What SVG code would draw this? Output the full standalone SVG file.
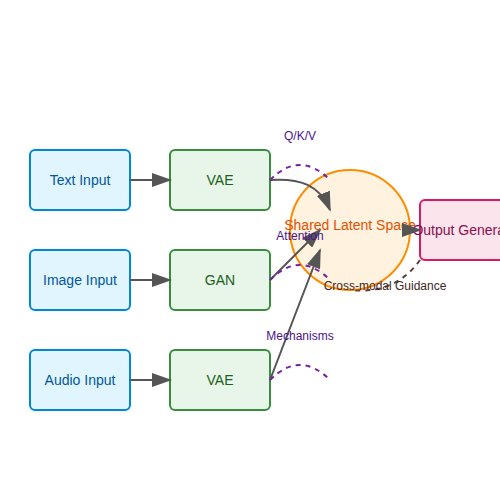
<svg xmlns="http://www.w3.org/2000/svg" width="500" height="500" viewBox="0 0 500 500">
<defs>
<marker id="arr" viewBox="0 0 10 7" refX="9" refY="3.5" markerWidth="10" markerHeight="7" orient="auto" markerUnits="strokeWidth">
<polygon points="0 0, 10 3.5, 0 7" fill="#555"/>
</marker>
<style>
text{font-family:"Liberation Sans",Arial,sans-serif;text-anchor:middle}
.in rect{fill:#e1f5fe;stroke:#0288d1;stroke-width:2}
.in text{fill:#01579b;font-size:14px}
.enc rect{fill:#e8f5e9;stroke:#388e3c;stroke-width:2}
.enc text{fill:#1b5e20;font-size:14px}
.con{stroke:#555;stroke-width:2;fill:none}
.att{stroke:#7b1fa2;stroke-width:2;fill:none;stroke-dasharray:5,5}
.lab{fill:#4a148c;font-size:12px}
</style>
</defs>
<rect width="500" height="500" fill="#fff"/>
<g id="text-input" class="in"><rect x="30" y="150" width="100" height="60" rx="5"/><text x="80" y="185">Text Input</text></g>
<g id="image-input" class="in"><rect x="30" y="250" width="100" height="60" rx="5"/><text x="80" y="285">Image Input</text></g>
<g id="audio-input" class="in"><rect x="30" y="350" width="100" height="60" rx="5"/><text x="80" y="385">Audio Input</text></g>
<g id="vae1" class="enc"><rect x="170" y="150" width="100" height="60" rx="5"/><text x="220" y="185">VAE</text></g>
<g id="gan" class="enc"><rect x="170" y="250" width="100" height="60" rx="5"/><text x="220" y="285">GAN</text></g>
<g id="vae2" class="enc"><rect x="170" y="350" width="100" height="60" rx="5"/><text x="220" y="385">VAE</text></g>
<g id="latent"><circle cx="350" cy="230" r="60" fill="#fff3e0" stroke="#ff8c00" stroke-width="2"/><text x="350" y="230" fill="#e65100" font-size="14">Shared Latent Space</text></g>
<g id="output"><rect x="420" y="200" width="100" height="60" rx="5" fill="#fce4ec" stroke="#d81b60" stroke-width="2"/><text x="470" y="235" fill="#880e4f" font-size="14">Output Generation</text></g>
<g id="connectors">
<line class="con" x1="130" y1="180" x2="170" y2="180" marker-end="url(#arr)"/>
<line class="con" x1="130" y1="280" x2="170" y2="280" marker-end="url(#arr)"/>
<line class="con" x1="130" y1="380" x2="170" y2="380" marker-end="url(#arr)"/>
<path class="con" d="M270,180 C300,178 320,185 330,210" marker-end="url(#arr)"/>
<line class="con" x1="270" y1="280" x2="320" y2="230" marker-end="url(#arr)"/>
<line class="con" x1="270" y1="380" x2="320" y2="250" marker-end="url(#arr)"/>
<line class="con" x1="410" y1="230" x2="420" y2="230" marker-end="url(#arr)"/>
<path class="att" d="M270,180 Q300,150 330,180"/>
<path class="att" d="M270,280 Q300,250 330,280"/>
<path class="att" d="M270,380 Q300,350 330,380"/>
<path d="M420,260 Q395,295 350,290" fill="none" stroke="#5d4037" stroke-width="2" stroke-dasharray="5,5"/>
</g>
<text class="lab" x="300" y="140">Q/K/V</text>
<text class="lab" x="300" y="240">Attention</text>
<text class="lab" x="300" y="340">Mechanisms</text>
<text x="385" y="290" fill="#3e2723" font-size="12">Cross-modal Guidance</text>
</svg>
